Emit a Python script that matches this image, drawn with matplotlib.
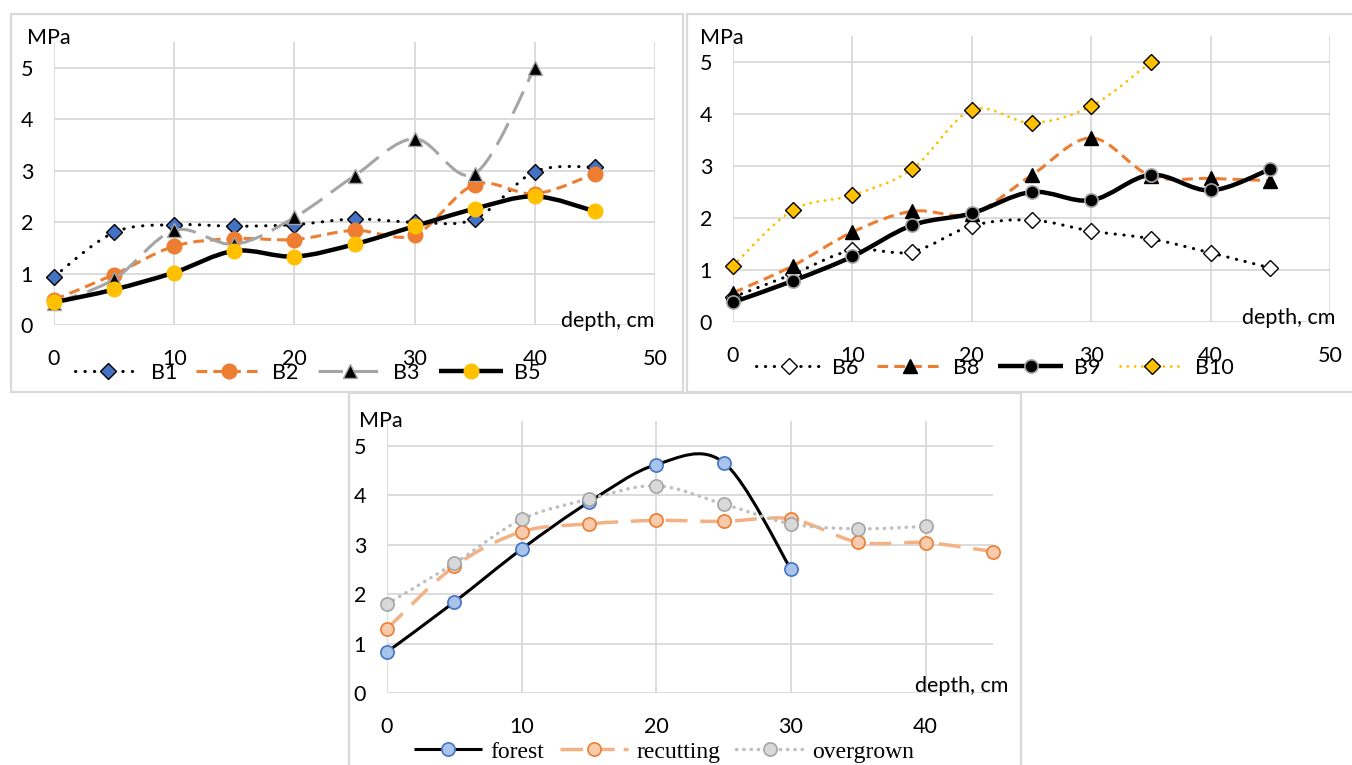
import matplotlib
matplotlib.use("Agg")
import matplotlib.pyplot as plt
import numpy as np
from matplotlib.path import Path
from matplotlib.patches import PathPatch, Rectangle
from matplotlib.lines import Line2D

W, H = 1352, 765
FONT = ["Lato", "DejaVu Sans"]
SERIF = ["Liberation Serif", "DejaVu Serif"]
plt.rcParams["font.family"] = FONT
FS = 15.5

# ---- data (depth, cm / MPa) ----
depth = [0, 5, 10, 15, 20, 25, 30, 35, 40, 45]
b1 = [0.94, 1.80, 1.95, 1.92, 1.95, 2.06, 2.00, 2.06, 2.98, 3.07]
b2 = [0.49, 0.98, 1.53, 1.68, 1.66, 1.84, 1.75, 2.73, 2.55, 2.94]
b3_depth = [0, 5, 10, 15, 20, 25, 30, 35, 40]
b3 = [0.42, 0.89, 1.84, 1.57, 2.09, 2.90, 3.62, 2.94, 5.00]
b5 = [0.44, 0.69, 1.02, 1.44, 1.33, 1.57, 1.92, 2.26, 2.50, 2.21]

b6 = [0.48, 0.92, 1.38, 1.35, 1.85, 1.96, 1.75, 1.60, 1.33, 1.04]
b8 = [0.56, 1.08, 1.73, 2.13, 2.08, 2.82, 3.54, 2.81, 2.76, 2.72]
b9 = [0.38, 0.79, 1.26, 1.86, 2.09, 2.50, 2.34, 2.83, 2.53, 2.94]
b10_depth = [0, 5, 10, 15, 20, 25, 30, 35]
b10 = [1.08, 2.15, 2.44, 2.94, 4.08, 3.83, 4.15, 5.00]

forest_depth = [0, 5, 10, 15, 20, 25, 30]
forest = [0.83, 1.84, 2.91, 3.86, 4.62, 4.66, 2.50]
recut = [1.30, 2.56, 3.26, 3.42, 3.49, 3.47, 3.52, 3.05, 3.04, 2.86]
over_depth = [0, 5, 10, 15, 20, 25, 30, 35, 40]
over = [1.80, 2.62, 3.51, 3.92, 4.19, 3.82, 3.42, 3.32, 3.37]

GRID = "#D9D9D9"


def fx(p): return p / W
def fy(p): return 1 - p / H


def smooth_path(x, y):
    # Excel-like smoothed line: cubic Bezier segments through the points
    x = np.asarray(x, float); y = np.asarray(y, float); n = len(x)
    verts = [(x[0], y[0])]; codes = [Path.MOVETO]
    for i in range(n - 1):
        xp, yp = (x[i - 1], y[i - 1]) if i > 0 else (x[i], y[i])
        xn, yn = (x[i + 2], y[i + 2]) if i + 2 < n else (x[i + 1], y[i + 1])
        c1 = (x[i] + (x[i + 1] - xp) / 6, y[i] + (y[i + 1] - yp) / 6)
        c2 = (x[i + 1] - (xn - x[i]) / 6, y[i + 1] - (yn - y[i]) / 6)
        verts += [c1, c2, (x[i + 1], y[i + 1])]; codes += [Path.CURVE4] * 3
    return Path(verts, codes)


def series(ax, x, y, z, color, lw, ls, marker, mfc, mec, ms, mew, cap="butt", leg_ls=None):
    ax.add_patch(PathPatch(smooth_path(x, y), fill=False, ec=color, lw=lw, ls=ls, capstyle=cap, zorder=z))
    ax.plot(x, y, ls="none", marker=marker, mfc=mfc, mec=mec, ms=ms, mew=mew, zorder=z + 0.5, clip_on=False)
    return Line2D([], [], color=color, lw=lw, ls=leg_ls or ls, marker=marker, mfc=mfc, mec=mec, ms=ms, mew=mew,
                  dash_capstyle=cap, solid_capstyle="butt")


def panel(fig, box, plot, xmax, xticks):
    l, t, r, b = box
    fig.add_artist(Rectangle((fx(l), fy(b)), fx(r - l), (b - t) / H, transform=fig.transFigure,
                             fill=False, ec=GRID, lw=1.6))
    pl, pt, pr, pb = plot
    ax = fig.add_axes([fx(pl), fy(pb), fx(pr - pl), (pb - pt) / H])
    ax.set_xlim(0, xmax); ax.set_ylim(0, 5.5)
    ax.set_xticks(xticks); ax.set_yticks(range(6))
    ax.grid(True, color=GRID, lw=1.3); ax.set_axisbelow(True)
    for s in ax.spines.values(): s.set_visible(False)
    ax.tick_params(length=0, labelsize=FS, colors="black")
    ax.tick_params(axis="x", pad=17); ax.tick_params(axis="y", pad=15)
    ax.patch.set_alpha(0)
    return ax


fig = plt.figure(figsize=(W / 100, H / 100), dpi=100)

# ---- panel 1 ----
ax1 = panel(fig, (11, 14, 683, 392), (54, 42, 655, 325), 50, range(0, 51, 10))
h1 = [series(ax1, depth, b1, 2, "black", 2.2, (0, (0.1, 3)), "D", "#4472C4", "black", 8.5, 1.0, "round"),
      series(ax1, depth, b2, 3, "#ED7D31", 2.2, (0, (3.5, 2)), "o", "#ED7D31", "#ED7D31", 10.5, 1.0),
      series(ax1, b3_depth, b3, 4, "#A5A5A5", 2.2, (0, (8, 3.5)), "^", "black", "#A5A5A5", 9.5, 1.0),
      series(ax1, depth, b5, 5, "black", 3.2, "-", "o", "#FFC000", "#FFC000", 10.5, 1.0)]
ax1.legend(h1, ["B1", "B2", "B3", "B5"], loc="center", bbox_to_anchor=(fx(308), fy(373)),
           bbox_transform=fig.transFigure, ncol=4, frameon=False, fontsize=FS, numpoints=1,
           handlelength=3.0, handletextpad=0.5, columnspacing=0.9)
fig.text(fx(27), fy(38), "MPa", fontsize=FS, va="center", ha="left")
fig.text(fx(561), fy(321), "depth, cm", fontsize=FS, va="center", ha="left")

# ---- panel 2 ----
ax2 = panel(fig, (687, 14, 1360, 392), (733, 36, 1330, 322), 50, range(0, 51, 10))
h2 = [series(ax2, depth, b6, 2, "black", 2.2, (0, (0.1, 2.8)), "D", "white", "black", 8, 1.0, "round"),
      series(ax2, depth, b8, 3, "#ED7D31", 2.2, (0, (3.5, 2)), "^", "black", "black", 10, 1.0),
      series(ax2, depth, b9, 4, "black", 3.2, "-", "o", "black", "#A5A5A5", 9.5, 1.2),
      series(ax2, b10_depth, b10, 5, "#FFC000", 2.0, (0, (0.1, 2.5)), "D", "#FFC000", "black", 8.5, 1.0, "round")]
ax2.legend(h2, ["B6", "B8", "B9", "B10"], loc="center", bbox_to_anchor=(fx(995), fy(368)),
           bbox_transform=fig.transFigure, ncol=4, frameon=False, fontsize=FS, numpoints=1,
           handlelength=3.0, handletextpad=0.5, columnspacing=0.9)
fig.text(fx(700), fy(38), "MPa", fontsize=FS, va="center", ha="left")
fig.text(fx(1242), fy(318), "depth, cm", fontsize=FS, va="center", ha="left")

# ---- panel 3 ----
ax3 = panel(fig, (349, 393, 1021, 770), (387, 421, 993, 693), 45, range(0, 41, 10))
h3 = [series(ax3, forest_depth, forest, 2, "black", 2.2, "-", "o", "#A9C4EB", "#4472C4", 9.5, 1.2),
      series(ax3, depth, recut, 3, "#F4B183", 2.5, (0, (6.3, 3.7)), "o", "#F8CBAD", "#ED7D31", 9.5, 1.2,
             leg_ls=(0, (6.5, 2.6))),
      series(ax3, over_depth, over, 4, "#BFBFBF", 2.5, (0, (0.1, 2)), "o", "#D9D9D9", "#A5A5A5", 9.5, 1.2, "round")]
ax3.legend(h3, ["forest", "recutting", "overgrown"], loc="center", bbox_to_anchor=(fx(664), fy(752)),
           bbox_transform=fig.transFigure, ncol=3, frameon=False, numpoints=1,
           prop={"family": SERIF, "size": 17}, handlelength=2.9, handletextpad=0.35, columnspacing=0.65)
fig.text(fx(359), fy(421), "MPa", fontsize=FS, va="center", ha="left")
fig.text(fx(915), fy(686), "depth, cm", fontsize=FS, va="center", ha="left")

fig.savefig("out.png", dpi=100)
